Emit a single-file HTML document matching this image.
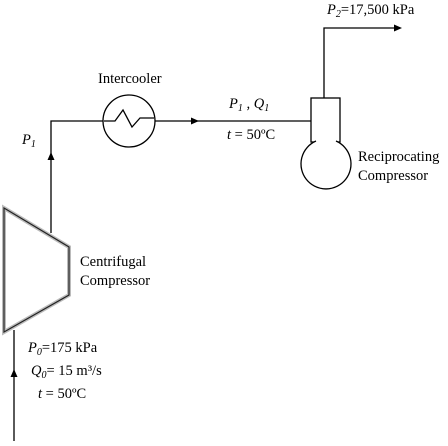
<!DOCTYPE html>
<html><head><style>
body{margin:0;background:#fff}
</style></head><body>
<svg width="448" height="441" viewBox="0 0 448 441" xmlns="http://www.w3.org/2000/svg">
<g stroke="#000" stroke-width="1.3" fill="none">
<polyline points="51,233 51,121 311,121"/>
<circle cx="129" cy="121" r="26" fill="#fff"/>
<polyline points="104,121 115,121 123,110 132,127 140,118 154,118"/>
<rect x="311" y="98" width="29" height="44" fill="#fff"/>
<path d="M316,141 A25,25 0 1 0 336,141" fill="#fff"/>
<polyline points="324,98 324,28 400,28"/>
<line x1="14" y1="330" x2="14" y2="441"/>
</g>
<polygon points="4,208 69,247 69,295 4,332" fill="#fff" stroke="#bbb" stroke-width="4"/>
<polygon points="4,208 69,247 69,295 4,332" fill="none" stroke="#222" stroke-width="1.2"/>
<g fill="#000">
<polygon points="402,28 394,24.5 394,31.5"/>
<polygon points="199,121 191,117.5 191,124.5"/>
<polygon points="51,152 47.5,160 54.5,160"/>
<polygon points="14,369 10.5,377 17.5,377"/>
</g>
<g font-family="'Liberation Serif', 'Times New Roman', serif" font-size="14.5" fill="#000">
<text x="327" y="14"><tspan font-style="italic">P<tspan font-size="10" dy="3">2</tspan></tspan><tspan dy="-3">=17,500 kPa</tspan></text>
<text x="98" y="83">Intercooler</text>
<text x="229" y="108" font-style="italic">P<tspan font-size="10" dy="3">1</tspan><tspan dy="-3"> , Q</tspan><tspan font-size="10" dy="3">1</tspan></text>
<text x="227" y="139"><tspan font-style="italic">t</tspan> = 50ºC</text>
<text x="358" y="161">Reciprocating</text>
<text x="358" y="180">Compressor</text>
<text x="22" y="144" font-style="italic">P<tspan font-size="10" dy="3">1</tspan></text>
<text x="80" y="266">Centrifugal</text>
<text x="80" y="285">Compressor</text>
<text x="28" y="352"><tspan font-style="italic">P<tspan font-size="10" dy="3">0</tspan></tspan><tspan dy="-3">=175 kPa</tspan></text>
<text x="31" y="375"><tspan font-style="italic">Q<tspan font-size="10" dy="3">0</tspan></tspan><tspan dy="-3">= 15 m³/s</tspan></text>
<text x="38" y="398"><tspan font-style="italic">t</tspan> = 50ºC</text>
</g>
</svg>
</body></html>
